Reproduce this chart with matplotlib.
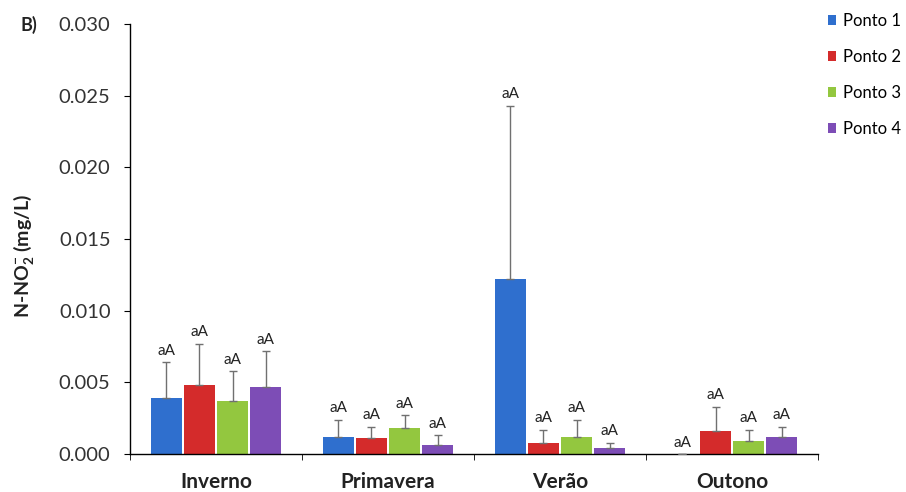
import matplotlib
matplotlib.use("Agg")
import matplotlib.pyplot as plt
import numpy as np

plt.rcParams['font.family'] = ['Lato', 'DejaVu Sans']
plt.rcParams['mathtext.fontset'] = 'custom'
plt.rcParams['mathtext.rm'] = 'Lato'
plt.rcParams['mathtext.bf'] = 'Lato:bold'

seasons = ["Inverno", "Primavera", "Verão", "Outono"]
series = ["Ponto 1", "Ponto 2", "Ponto 3", "Ponto 4"]
# means per series for each season
means = {
    "Ponto 1": [0.0039, 0.0012, 0.0122, 0.0000],
    "Ponto 2": [0.0048, 0.0011, 0.0008, 0.0016],
    "Ponto 3": [0.0037, 0.0018, 0.0012, 0.0009],
    "Ponto 4": [0.0047, 0.0006, 0.0004, 0.0012],
}
errors = {
    "Ponto 1": [0.0025, 0.0012, 0.0121, 0.0000],
    "Ponto 2": [0.0029, 0.0008, 0.0009, 0.0017],
    "Ponto 3": [0.0021, 0.0009, 0.0012, 0.0008],
    "Ponto 4": [0.0025, 0.0007, 0.0004, 0.0007],
}
labels = {
    "Ponto 1": ["aA", "aA", "aA", "aA"],
    "Ponto 2": ["aA", "aA", "aA", "aA"],
    "Ponto 3": ["aA", "aA", "aA", "aA"],
    "Ponto 4": ["aA", "aA", "aA", "aA"],
}
colors = ["#2F6FCE", "#D42B2B", "#93C73F", "#7D4DB6"]

fig = plt.figure(figsize=(9.06, 4.92), dpi=100)
ax = fig.add_axes([0.1435, 0.0772, 0.7595, 0.8738])

x = np.arange(len(seasons))
w = 0.18
step = 0.193
for i, s in enumerate(series):
    pos = x + (i - 1.5) * step
    m = np.array(means[s])
    e = np.array(errors[s])
    ax.bar(pos, m, width=w, color=colors[i], linewidth=0, label=s, zorder=2)
    ax.errorbar(pos, m, yerr=[np.zeros_like(e), e], fmt='none', ecolor='#707070',
                elinewidth=1.0, capsize=2.8, capthick=1.0, zorder=3)
    for p, mv, ev, lb in zip(pos, m, e, labels[s]):
        ax.text(p, mv + ev + 0.0003, lb, ha='center', va='bottom', fontsize=11,
                color='#222222')

ax.set_xlim(-0.5, 3.5)
ax.set_ylim(0, 0.030)
yt = np.arange(0, 0.0301, 0.005)
ax.set_yticks(yt)
ax.set_yticklabels([f"{v:.3f}" for v in yt], fontsize=14.5, color='#333333')
ax.set_xticks(x)
ax.set_xticklabels(seasons, fontsize=15, fontweight='bold', color='#222222')
ax.set_xticks(np.arange(-0.5, 3.6, 1), minor=True)
ax.tick_params(axis='x', which='major', length=0, pad=13)
ax.tick_params(axis='x', which='minor', length=4, direction='out')
ax.tick_params(axis='y', length=4, direction='out', pad=10)
for sp in ['top', 'right']:
    ax.spines[sp].set_visible(False)
ax.spines['left'].set_linewidth(1.0)
ax.spines['bottom'].set_linewidth(1.0)

fig.text(24/906, 1-256/492, r"N-NO$_\mathbf{2}^{\mathbf{-}}$ (mg/L)", fontsize=14,
         fontweight='bold', rotation=90, ha='center', va='center', color='#222222')
fig.text(20/906, 1-25/492, "B)", fontsize=13, fontweight='bold', ha='left',
         va='center', color='#222222')

leg = ax.legend(loc='upper left', bbox_to_anchor=(828/906, 1-13/492),
                bbox_transform=fig.transFigure, frameon=False,
                fontsize=12, handlelength=0.5, handleheight=0.5, labelspacing=1.2,
                handletextpad=0.4, borderaxespad=0, borderpad=0)

fig.savefig("out.png", dpi=100)
